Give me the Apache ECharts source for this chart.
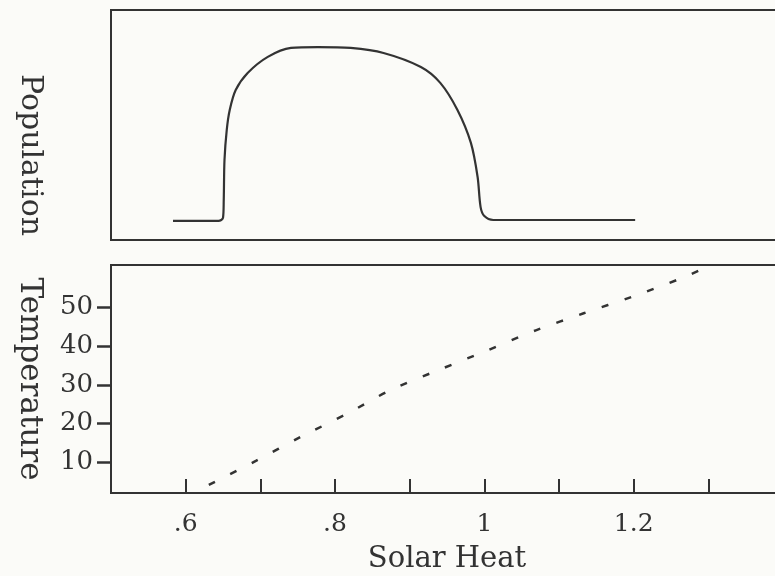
<!DOCTYPE html>
<html>
<head>
<meta charset="utf-8">
<script src="https://cdn.jsdelivr.net/npm/echarts@6/dist/echarts.min.js"></script>
<style>
  html, body { margin: 0; padding: 0; background: #fbfbf8; }
  #chart { width: 775px; height: 576px; }
</style>
</head>
<body>
<div id="chart"></div>
<script>
// solar heat (x) vs population
const popX = [0.583, 0.644, 0.650, 0.651, 0.652, 0.655, 0.659, 0.667, 0.683, 0.710, 0.741, 0.777, 0.821, 0.865, 0.915, 0.941, 0.964, 0.982, 0.991, 0.995, 1.000, 1.012, 1.202]
const popY = [8.3, 8.3, 9.6, 17.4, 34.8, 47.8, 56.5, 65.2, 72.6, 79.6, 83.5, 83.9, 83.5, 81.3, 75.2, 68.3, 56.5, 42.2, 27.4, 14.3, 10.4, 8.7, 8.7]

// solar heat (x) vs temperature, lower panel (dashed)
const tempX = [0.631, 0.694, 0.754, 0.817, 0.874, 0.941, 1.004, 1.069, 1.133, 1.198, 1.263, 1.296]
const tempY = [4.1, 10.3, 16.5, 22.6, 28.6, 34.0, 38.9, 44.1, 48.5, 52.8, 57.5, 60.3]

const xTicks = [0.6, 0.7, 0.8, 0.9, 1.0, 1.1, 1.2, 1.3]
const xLabels = [0.6, 0.8, 1.0, 1.2]
const yTicks = [10, 20, 30, 40, 50]

const ink = '#333'
const font = 'DejaVu Serif'

// .6 / .8 / 1 / 1.2 — no leading zero
const fmtX = (v) => {
  const s = String(Math.round(v * 10) / 10)
  return s.startsWith('0') ? s.substring(1) : s
}

const chart = echarts.init(document.getElementById('chart'))

chart.setOption({
  animation: false,
  backgroundColor: '#fbfbf8',
  textStyle: { fontFamily: font, color: ink },
  // the frames run past the right edge of the picture
  grid: [
    { left: 111, width: 672, top: 10, height: 230, outerBoundsMode: 'none', show: true, borderColor: ink, borderWidth: 2, backgroundColor: 'transparent' },
    { left: 111, width: 672, top: 265, height: 228, outerBoundsMode: 'none', show: true, borderColor: ink, borderWidth: 2, backgroundColor: 'transparent' },
  ],
  xAxis: [
    {
      type: 'value', gridIndex: 0, min: 0.5, max: 1.4,
      axisLine: { show: false },
      axisTick: { show: false },
      axisLabel: { show: false },
      splitLine: { show: false },
    },
    {
      type: 'value', gridIndex: 1, min: 0.5, max: 1.4,
      name: 'Solar Heat',
      nameLocation: 'middle',
      nameGap: 52,
      nameTextStyle: { fontFamily: font, fontSize: 29, color: ink },
      axisLine: { show: true, lineStyle: { color: ink, width: 2 } },
      axisTick: { show: true, inside: true, length: 14, customValues: xTicks, lineStyle: { color: ink, width: 2 } },
      axisLabel: { show: true, margin: 19, customValues: xLabels, formatter: fmtX, fontFamily: font, fontSize: 25, color: ink },
      splitLine: { show: false },
    },
  ],
  yAxis: [
    {
      type: 'value', gridIndex: 0, min: 0, max: 100,
      name: 'Population',
      nameLocation: 'middle',
      nameRotate: -90,
      nameGap: 66,
      nameTextStyle: { fontFamily: font, fontSize: 30, color: ink, padding: [0, 0, 0, 60] },
      axisLine: { show: true, lineStyle: { color: ink, width: 2 } },
      axisTick: { show: false },
      axisLabel: { show: false },
      splitLine: { show: false },
    },
    {
      type: 'value', gridIndex: 1, min: 2, max: 61,
      name: 'Temperature',
      nameLocation: 'middle',
      nameRotate: -90,
      nameGap: 66,
      nameTextStyle: { fontFamily: font, fontSize: 31, color: ink },
      axisLine: { show: true, lineStyle: { color: ink, width: 2 } },
      axisTick: { show: true, length: 14, customValues: yTicks, lineStyle: { color: ink, width: 2.5 } },
      axisLabel: { show: true, margin: 18, customValues: yTicks, fontFamily: font, fontSize: 26, color: ink },
      splitLine: { show: false },
    },
  ],
  series: [
    {
      name: 'Population',
      type: 'line',
      xAxisIndex: 0,
      yAxisIndex: 0,
      data: popX.map((x, i) => [x, popY[i]]),
      showSymbol: false,
      smooth: 0.3,
      lineStyle: { color: ink, width: 2.2 },
    },
    {
      name: 'Temperature',
      type: 'line',
      xAxisIndex: 1,
      yAxisIndex: 1,
      data: tempX.map((x, i) => [x, tempY[i]]),
      showSymbol: false,
      smooth: 0.3,
      lineStyle: { color: ink, width: 2.5, type: [7, 17] },
    },
  ],
})
</script>
</body>
</html>
